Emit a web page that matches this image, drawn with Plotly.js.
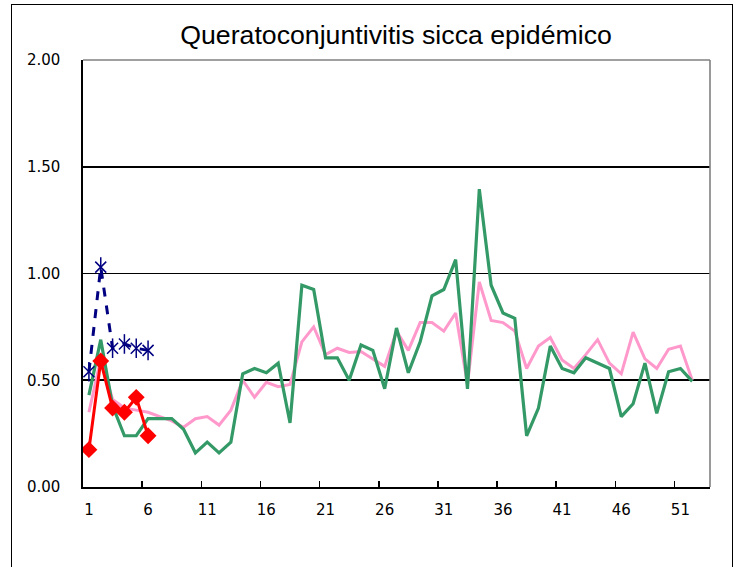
<!DOCTYPE html>
<html>
<head>
<meta charset="utf-8">
<script src="https://cdn.plot.ly/plotly-3.0.1.min.js"></script>
<style>
  html, body { margin: 0; padding: 0; overflow: hidden; background: #fff; }
  #chart { width: 741px; height: 567px; position: absolute; left: 0; top: 0; }
  #frame { position: absolute; left: 11px; top: 4px; width: 720px; height: 620px;
           border: 1.5px solid #000; pointer-events: none; }
</style>
</head>
<body>
<div id="chart"></div>
<div id="frame"></div>
<script>
const chartTitle = "Queratoconjuntivitis sicca epidémico";
const weeks = Array.from({length: 52}, (_, i) => i + 1);
const tickWeeks = [1, 6, 11, 16, 21, 26, 31, 36, 41, 46, 51];
const tickLabels = ["1", "6", "11", "16", "21", "26", "31", "36", "41", "46", "51"];
const boundaryTicks = [5.5, 10.5, 15.5, 20.5, 25.5, 30.5, 35.5, 40.5, 45.5, 50.5];

// pink series (weeks 1-52)
const pinkValues = [0.35, 0.60, 0.41, 0.37, 0.36, 0.35, 0.33, 0.31, 0.28, 0.32,
  0.33, 0.29, 0.36, 0.50, 0.42, 0.49, 0.47, 0.48, 0.68, 0.75,
  0.62, 0.65, 0.63, 0.635, 0.60, 0.565, 0.73, 0.64, 0.77, 0.77,
  0.73, 0.815, 0.48, 0.96, 0.78, 0.77, 0.73, 0.555, 0.66, 0.70,
  0.595, 0.555, 0.62, 0.69, 0.58, 0.53, 0.725, 0.60, 0.555, 0.645,
  0.66, 0.50];
// green series (weeks 1-52)
const greenValues = [0.43, 0.69, 0.38, 0.24, 0.24, 0.32, 0.32, 0.32, 0.27, 0.16,
  0.21, 0.16, 0.21, 0.53, 0.555, 0.535, 0.58, 0.30, 0.945, 0.925,
  0.605, 0.605, 0.50, 0.665, 0.64, 0.46, 0.745, 0.535, 0.68, 0.895,
  0.925, 1.065, 0.46, 1.395, 0.945, 0.815, 0.79, 0.24, 0.37, 0.66,
  0.555, 0.535, 0.605, 0.58, 0.555, 0.33, 0.39, 0.58, 0.345, 0.54,
  0.555, 0.495];
// navy series (weeks 1-6)
const navyWeeks = [1, 2, 3, 4, 5, 6];
const navyValues = [0.54, 1.03, 0.65, 0.67, 0.65, 0.64];
// red series (weeks 1-6)
const redWeeks = [1, 2, 3, 4, 5, 6];
const redValues = [0.175, 0.59, 0.37, 0.35, 0.42, 0.24];

const traces = [
  {x: weeks, y: pinkValues, type: "scatter", mode: "lines",
   line: {color: "#FF99CC", width: 3}, hoverinfo: "skip"},
  {x: weeks, y: greenValues, type: "scatter", mode: "lines",
   line: {color: "#339966", width: 3.2}, hoverinfo: "skip"},
  {x: navyWeeks, y: navyValues, type: "scatter", mode: "lines+markers",
   line: {color: "#000080", width: 3, dash: "dash"},
   marker: {symbol: "x-thin-open", size: 11, color: "#000080", line: {color: "#000080", width: 1.5}},
   hoverinfo: "skip"},
  {x: navyWeeks, y: navyValues, type: "scatter", mode: "markers",
   marker: {symbol: "line-ns-open", size: 14, color: "#000080", line: {color: "#000080", width: 1.5}},
   hoverinfo: "skip"},
  {x: redWeeks, y: redValues, type: "scatter", mode: "lines+markers",
   line: {color: "#FF0000", width: 3},
   marker: {symbol: "diamond", size: 13, color: "#FF0000"},
   hoverinfo: "skip"}
];

const tickFont = {family: "DejaVu Sans", size: 15, color: "#000"};

const layout = {
  width: 741, height: 567,
  margin: {l: 83, r: 31, t: 60, b: 80, pad: 0},
  paper_bgcolor: "#fff", plot_bgcolor: "#fff",
  showlegend: false,
  title: {text: chartTitle, x: 0.5345, xanchor: "center", y: 0.938, yanchor: "middle",
          font: {family: "Liberation Sans", size: 26.7, color: "#000"}},
  xaxis: {range: [0.5, 53.5], tickmode: "array", tickvals: tickWeeks, ticktext: tickLabels,
          ticks: "", showgrid: false, zeroline: false, showline: true,
          linecolor: "#000", linewidth: 1.6, tickfont: tickFont, ticklabelstandoff: 8,
          fixedrange: true},
  xaxis2: {range: [0.5, 53.5], overlaying: "x", anchor: "y", side: "bottom",
           tickmode: "array", tickvals: boundaryTicks, ticks: "inside", ticklen: 6,
           tickwidth: 1.5, tickcolor: "#000", showticklabels: false, showgrid: false,
           zeroline: false, showline: false},
  yaxis: {range: [0, 2], tickmode: "array", tickvals: [0, 0.5, 1, 1.5, 2],
          ticktext: ["0.00", "0.50", "1.00", "1.50", "2.00"],
          ticks: "", showgrid: true, gridcolor: "#000", gridwidth: 1.6,
          zeroline: false, showline: true, linecolor: "#000", linewidth: 1.6,
          tickfont: tickFont, ticklabelstandoff: 18, fixedrange: true},
  shapes: [
    {type: "line", xref: "paper", yref: "paper", x0: 0, x1: 1, y0: 1, y1: 1,
     line: {color: "#808080", width: 1.6}, layer: "above"},
    {type: "line", xref: "paper", yref: "paper", x0: 1, x1: 1, y0: 0, y1: 1,
     line: {color: "#808080", width: 1.6}, layer: "above"}
  ]
};

// attach overlay axis to an invisible trace so the boundary ticks render
traces.push({x: [1], y: [null], xaxis: "x2", type: "scatter", mode: "lines", hoverinfo: "skip"});

Plotly.newPlot("chart", traces, layout, {staticPlot: true, displayModeBar: false});
</script>
</body>
</html>
